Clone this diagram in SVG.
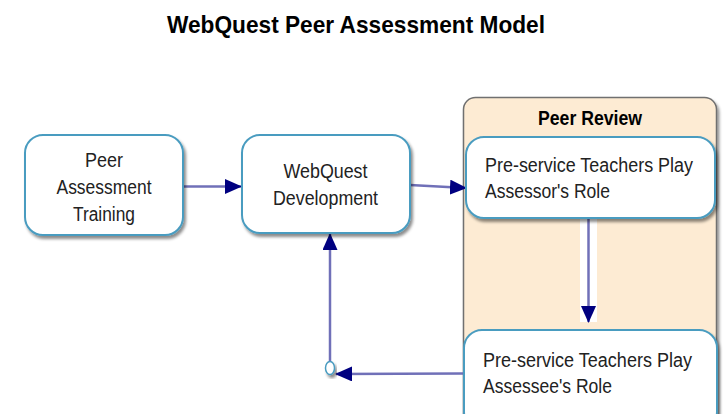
<svg xmlns="http://www.w3.org/2000/svg" width="723" height="414" viewBox="0 0 723 414">
<defs>
<filter id="sh" x="-10%" y="-10%" width="130%" height="140%">
<feDropShadow dx="2" dy="3" stdDeviation="1.5" flood-color="#000" flood-opacity="0.45"/>
</filter>
<marker id="ah" markerWidth="17" markerHeight="15" refX="16" refY="7.5" orient="auto" markerUnits="userSpaceOnUse" viewBox="0 0 17 15">
<path d="M0,0 L17,7.5 L0,15 Z" fill="#000080"/>
</marker>
<style>
.node{fill:#fff;stroke:#4a9cc0;stroke-width:2;filter:url(#sh)}
.t{font-family:"Liberation Sans",Arial,sans-serif;font-size:20px;fill:#222}
.c{stroke:#7070b8;stroke-width:2.5;fill:none}
</style>
</defs>
<rect width="723" height="414" fill="#fff"/>
<text x="356" y="33" text-anchor="middle" font-family="Liberation Sans,Arial,sans-serif" font-weight="bold" font-size="24" fill="#000" textLength="378" lengthAdjust="spacingAndGlyphs">WebQuest Peer Assessment Model</text>

<g id="peer-review">
<rect x="463.5" y="97.5" width="253" height="330" rx="12" fill="#fdebd3" stroke="#707070" stroke-width="1.5" filter="url(#sh)"/>
<text x="590" y="125" text-anchor="middle" font-family="Liberation Sans,Arial,sans-serif" font-weight="bold" font-size="20" fill="#000" textLength="104" lengthAdjust="spacingAndGlyphs">Peer Review</text>
</g>

<g id="connectors">
<line x1="183" y1="186.5" x2="241" y2="186.5" class="c" marker-end="url(#ah)"/>
<line x1="410" y1="185" x2="466" y2="188" class="c" marker-end="url(#ah)"/>
<rect x="580" y="218" width="17" height="104" fill="#fff"/>
<line x1="588.5" y1="218" x2="588.5" y2="322" class="c" stroke="#3a3a98" marker-end="url(#ah)"/>
<line x1="464" y1="373.5" x2="336" y2="374" class="c" marker-end="url(#ah)"/>
<line x1="330" y1="361" x2="330" y2="234" class="c" marker-end="url(#ah)"/>
<ellipse cx="330" cy="368" rx="4.5" ry="6.5" fill="#fff" stroke="#4a9cc0" stroke-width="1.5" filter="url(#sh)"/>
</g>

<g id="n1">
<rect x="25" y="135" width="158" height="100" rx="18" class="node"/>
<text class="t" text-anchor="middle"><tspan x="104" y="167" textLength="38" lengthAdjust="spacingAndGlyphs">Peer</tspan><tspan x="104" y="194" textLength="95" lengthAdjust="spacingAndGlyphs">Assessment</tspan><tspan x="104" y="221" textLength="62" lengthAdjust="spacingAndGlyphs">Training</tspan></text>
</g>
<g id="n2">
<rect x="242" y="135" width="168" height="98" rx="18" class="node"/>
<text class="t" text-anchor="middle"><tspan x="325.5" y="178" textLength="84" lengthAdjust="spacingAndGlyphs">WebQuest</tspan><tspan x="325.5" y="205" textLength="105" lengthAdjust="spacingAndGlyphs">Development</tspan></text>
</g>
<g id="n3">
<rect x="466" y="137" width="249" height="81" rx="18" class="node"/>
<text class="t"><tspan x="485" y="172" textLength="208" lengthAdjust="spacingAndGlyphs">Pre-service Teachers Play</tspan><tspan x="485" y="198" textLength="125" lengthAdjust="spacingAndGlyphs">Assessor's Role</tspan></text>
</g>
<g id="n4">
<rect x="464" y="330" width="253" height="100" rx="18" class="node"/>
<text class="t"><tspan x="483" y="367" textLength="209" lengthAdjust="spacingAndGlyphs">Pre-service Teachers Play</tspan><tspan x="483" y="393" textLength="129" lengthAdjust="spacingAndGlyphs">Assessee's Role</tspan></text>
</g>
</svg>
